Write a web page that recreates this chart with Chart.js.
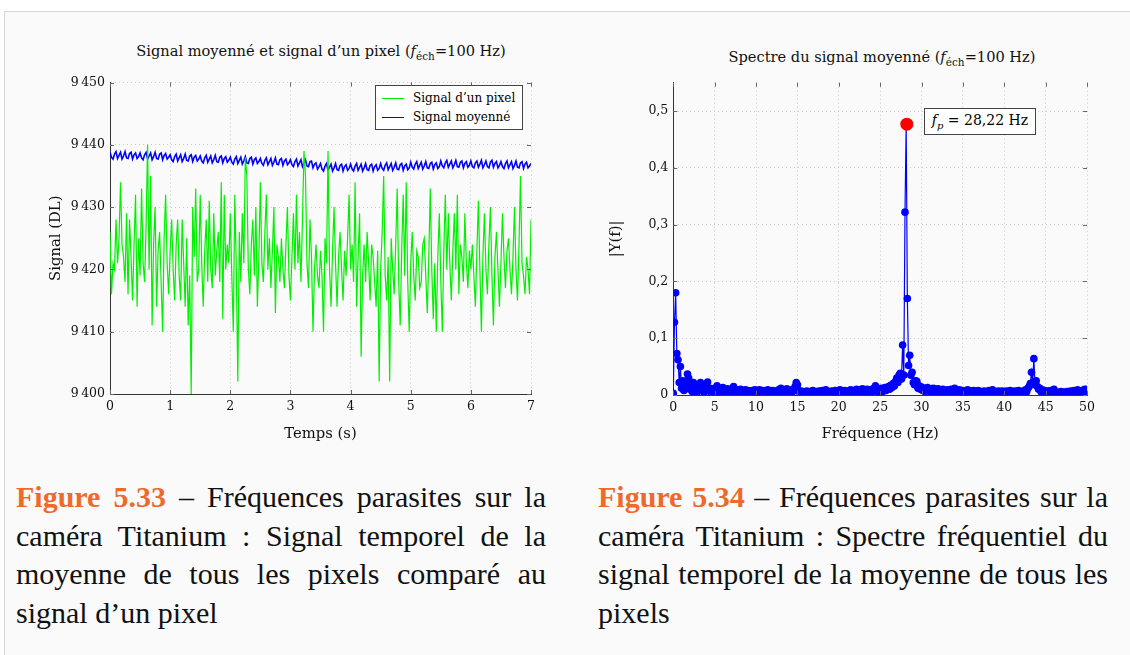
<!DOCTYPE html>
<html>
<head>
<meta charset="utf-8">
<script src="https://cdn.jsdelivr.net/npm/chart.js@4"></script>
<style>
  body { margin: 0; background: #fff; width: 1130px; height: 655px; overflow: hidden; position: relative; font-family: "DejaVu Serif", serif; }
  #frame { position: absolute; left: 4px; top: 11px; width: 1200px; height: 700px; border: 1px solid #d6d6d6; background: #fafafa; }
  canvas { position: absolute; }
  .ctitle { position: absolute; font-size: 14.6px; color: #111; white-space: nowrap; transform: translateX(-50%); }
  .ctitle sub { font-size: 10.5px; }
  #legend { position: absolute; left: 375px; top: 85px; width: 146px; height: 43px; border: 1px solid #444; background: #fff; font-size: 12px; }
  #legend div { position: absolute; left: 6px; white-space: nowrap; }
  #legend span { display: inline-block; width: 22px; height: 0; vertical-align: middle; margin-right: 9px; }
  #fpbox { position: absolute; border: 1px solid #444; background: #fff; font-size: 14px; padding: 3px 7px; white-space: nowrap; }
  .cap { position: absolute; font-family: "Liberation Serif", serif; font-size: 30px; color: #111; }
  .cap div { height: 38.5px; line-height: 38.5px; text-align: justify; text-align-last: justify; white-space: nowrap; }
  .cap div.last { text-align-last: left; }
  .cap b { color: #ee6a2c; }
</style>
</head>
<body>
<div id="frame"></div>
<div class="ctitle" style="left:321px; top:42px;">Signal moyenné et signal d’un pixel (<i>f</i><sub>éch</sub>=100 Hz)</div>
<div class="ctitle" style="left:882px; top:48px;">Spectre du signal moyenné (<i>f</i><sub>éch</sub>=100 Hz)</div>
<canvas id="timeChart" width="500" height="380" style="left:40px; top:70px;"></canvas>
<canvas id="specChart" width="500" height="380" style="left:600px; top:70px;"></canvas>
<div id="legend">
  <div style="top:5px;"><span style="border-top:1.2px solid #00f000;"></span>Signal d’un pixel</div>
  <div style="top:24px;"><span style="border-top:1.2px solid #0000ff;"></span>Signal moyenné</div>
</div>
<div id="fpbox"><i>f<sub style="font-size:10px">p</sub></i> = 28,22 Hz</div>

<div class="cap" style="left:16px; top:478px; width:530px;">
  <div><b>Figure 5.33</b> – Fréquences parasites sur la</div>
  <div>caméra Titanium : Signal temporel de la</div>
  <div>moyenne de tous les pixels comparé au</div>
  <div class="last">signal d’un pixel</div>
</div>
<div class="cap" style="left:598px; top:478px; width:510px;">
  <div><b>Figure 5.34</b> – Fréquences parasites sur la</div>
  <div>caméra Titanium : Spectre fréquentiel du</div>
  <div>signal temporel de la moyenne de tous les</div>
  <div class="last">pixels</div>
</div>

<script>
// sample spacing of the plotted series
const pixelStep = 0.025;
const meanStep = 0.025;
const freqStep = 100 / 700;

// signal of one pixel (DL), one row = 0.5 s
const pixelSignal = [
  9426, 9416, 9421, 9420, 9428, 9421, 9425, 9434, 9424, 9422, 9418, 9429, 9416, 9428, 9422, 9415, 9424, 9432, 9414, 9425,
  9419, 9433, 9421, 9418, 9427, 9440, 9420, 9435, 9411, 9424, 9430, 9414, 9423, 9426, 9418, 9410, 9425, 9432, 9421, 9416,
  9423, 9428, 9420, 9415, 9424, 9428, 9419, 9415, 9428, 9421, 9414, 9425, 9411, 9419, 9400, 9430, 9422, 9433, 9418, 9420,
  9432, 9421, 9414, 9423, 9428, 9418, 9431, 9420, 9417, 9429, 9419, 9423, 9426, 9418, 9434, 9412, 9432, 9420, 9424, 9421,
  9429, 9419, 9410, 9432, 9420, 9402, 9426, 9418, 9429, 9421, 9438, 9435, 9420, 9416, 9424, 9428, 9419, 9430, 9414, 9422,
  9434, 9421, 9418, 9426, 9432, 9420, 9425, 9417, 9423, 9430, 9413, 9424, 9422, 9418, 9425, 9420, 9417, 9424, 9430, 9419,
  9415, 9422, 9429, 9420, 9432, 9421, 9426, 9418, 9428, 9439, 9435, 9421, 9417, 9428, 9422, 9410, 9420, 9424, 9419, 9417,
  9423, 9419, 9410, 9425, 9421, 9439, 9420, 9414, 9423, 9430, 9421, 9414, 9422, 9426, 9420, 9415, 9423, 9419, 9425, 9432,
  9420, 9424, 9418, 9434, 9414, 9422, 9429, 9406, 9419, 9424, 9418, 9426, 9421, 9415, 9424, 9422, 9418, 9414, 9423, 9402,
  9420, 9426, 9435, 9419, 9415, 9422, 9402, 9425, 9420, 9416, 9424, 9433, 9418, 9411, 9423, 9432, 9419, 9434, 9418, 9410,
  9421, 9426, 9419, 9415, 9423, 9422, 9417, 9418, 9424, 9425, 9419, 9413, 9422, 9433, 9420, 9412, 9421, 9410, 9422, 9429,
  9418, 9410, 9423, 9432, 9420, 9429, 9421, 9415, 9423, 9429, 9420, 9432, 9416, 9424, 9422, 9418, 9429, 9421, 9417, 9423,
  9420, 9424, 9419, 9414, 9423, 9431, 9420, 9410, 9422, 9429, 9420, 9416, 9424, 9430, 9419, 9411, 9422, 9426, 9420, 9414,
  9421, 9429, 9422, 9417, 9423, 9425, 9420, 9416, 9422, 9430, 9420, 9415, 9424, 9435, 9421, 9419, 9416, 9422, 9420, 9416,
  9428
];

// averaged signal (DL), one row = 0.5 s
const meanSignal = [
  9438.8, 9438.0, 9437.7, 9438.5, 9438.9, 9437.8, 9438.3, 9438.8, 9437.7, 9438.2, 9438.9, 9437.9, 9437.8, 9438.6, 9438.8, 9437.7, 9438.4, 9438.7, 9437.8, 9438.1,
  9438.7, 9437.9, 9437.6, 9438.4, 9438.8, 9437.7, 9438.2, 9438.7, 9437.6, 9438.1, 9438.8, 9437.8, 9437.7, 9438.5, 9438.7, 9437.6, 9438.3, 9438.6, 9437.7, 9438.0,
  9438.4, 9437.6, 9437.3, 9438.1, 9438.5, 9437.4, 9437.9, 9438.4, 9437.3, 9437.8, 9438.5, 9437.5, 9437.4, 9438.2, 9438.4, 9437.3, 9438.0, 9438.3, 9437.4, 9437.7,
  9438.2, 9437.4, 9437.1, 9437.9, 9438.3, 9437.2, 9437.7, 9438.2, 9437.1, 9437.6, 9438.3, 9437.3, 9437.2, 9438.0, 9438.2, 9437.1, 9437.8, 9438.1, 9437.2, 9437.5,
  9438.0, 9437.2, 9436.9, 9437.7, 9438.1, 9437.0, 9437.5, 9438.0, 9436.9, 9437.4, 9438.1, 9437.1, 9437.0, 9437.8, 9438.0, 9436.9, 9437.6, 9437.9, 9437.0, 9437.3,
  9437.8, 9437.0, 9436.7, 9437.5, 9437.9, 9436.8, 9437.3, 9437.8, 9436.7, 9437.2, 9437.9, 9436.9, 9436.8, 9437.6, 9437.8, 9436.7, 9437.4, 9437.7, 9436.8, 9437.1,
  9437.6, 9436.8, 9436.5, 9437.3, 9437.7, 9436.6, 9437.1, 9437.6, 9436.5, 9437.0, 9437.6, 9436.6, 9436.5, 9437.3, 9437.4, 9436.3, 9436.9, 9437.1, 9436.1, 9436.5,
  9437.0, 9436.1, 9435.8, 9436.6, 9437.0, 9435.9, 9436.4, 9436.9, 9435.8, 9436.3, 9437.0, 9436.0, 9435.9, 9436.7, 9436.9, 9435.8, 9436.5, 9436.8, 9435.9, 9436.2,
  9436.9, 9436.1, 9435.8, 9436.6, 9437.0, 9435.9, 9436.4, 9436.9, 9435.8, 9436.3, 9437.0, 9436.0, 9435.9, 9436.7, 9436.9, 9435.8, 9436.5, 9436.8, 9435.9, 9436.2,
  9437.0, 9436.2, 9435.9, 9436.7, 9437.1, 9436.0, 9436.5, 9437.0, 9435.9, 9436.4, 9437.1, 9436.1, 9436.0, 9436.8, 9437.0, 9435.9, 9436.6, 9436.9, 9436.0, 9436.3,
  9437.2, 9436.4, 9436.1, 9436.9, 9437.3, 9436.2, 9436.7, 9437.2, 9436.1, 9436.6, 9437.3, 9436.3, 9436.2, 9437.0, 9437.2, 9436.1, 9436.8, 9437.1, 9436.2, 9436.5,
  9437.4, 9436.6, 9436.3, 9437.1, 9437.5, 9436.4, 9436.9, 9437.4, 9436.3, 9436.8, 9437.5, 9436.5, 9436.4, 9437.2, 9437.4, 9436.3, 9437.0, 9437.3, 9436.4, 9436.7,
  9437.4, 9436.5, 9436.3, 9437.1, 9437.4, 9436.4, 9436.9, 9437.5, 9436.3, 9436.8, 9437.4, 9436.5, 9436.3, 9437.2, 9437.5, 9436.4, 9437.0, 9437.3, 9436.3, 9436.7,
  9437.3, 9436.5, 9436.2, 9437.0, 9437.4, 9436.3, 9436.8, 9437.3, 9436.2, 9436.7, 9437.4, 9436.4, 9436.3, 9437.1, 9437.3, 9436.2, 9436.9, 9437.2, 9436.3, 9436.6,
  9437.0
];

// |Y(f)|, one row = 2 Hz
const spectrumAmp = [
  0.003, 0.128, 0.18, 0.073, 0.062, 0.022, 0.05, 0.012, 0.025, 0.008, 0.02, 0.012, 0.037, 0.03,
  0.01, 0.02, 0.006, 0.022, 0.01, 0.015, 0.004, 0.012, 0.018, 0.022, 0.008, 0.012, 0.005, 0.01,
  0.015, 0.023, 0.008, 0.012, 0.004, 0.01, 0.006, 0.012, 0.008, 0.016, 0.005, 0.012, 0.01, 0.004,
  0.013, 0.006, 0.009, 0.003, 0.011, 0.007, 0.005, 0.01, 0.004, 0.015, 0.008, 0.006, 0.003, 0.009,
  0.007, 0.01, 0.004, 0.006, 0.003, 0.009, 0.005, 0.008, 0.004, 0.007, 0.002, 0.008, 0.006, 0.009,
  0.005, 0.008, 0.003, 0.009, 0.006, 0.004, 0.008, 0.003, 0.007, 0.005, 0.009, 0.004, 0.006, 0.003,
  0.008, 0.005, 0.007, 0.003, 0.006, 0.009, 0.004, 0.012, 0.005, 0.003, 0.008, 0.006, 0.011, 0.004,
  0.007, 0.003, 0.009, 0.006, 0.01, 0.015, 0.022, 0.018, 0.008, 0.004, 0.007, 0.003, 0.006, 0.005,
  0.003, 0.007, 0.005, 0.002, 0.006, 0.004, 0.008, 0.003, 0.006, 0.005, 0.002, 0.007, 0.004, 0.006,
  0.008, 0.003, 0.005, 0.009, 0.004, 0.002, 0.006, 0.004, 0.007, 0.003, 0.005, 0.008, 0.004, 0.006,
  0.003, 0.009, 0.005, 0.007, 0.004, 0.008, 0.006, 0.003, 0.007, 0.005, 0.009, 0.004, 0.006, 0.008,
  0.005, 0.01, 0.004, 0.007, 0.009, 0.006, 0.011, 0.005, 0.008, 0.004, 0.01, 0.007, 0.005, 0.009,
  0.006, 0.011, 0.008, 0.016, 0.009, 0.005, 0.01, 0.007, 0.012, 0.006, 0.009, 0.013, 0.008, 0.012,
  0.015, 0.01, 0.017, 0.013, 0.02, 0.016, 0.024, 0.03, 0.022, 0.035, 0.038, 0.028, 0.088, 0.035,
  0.322, 0.477, 0.17, 0.052, 0.07, 0.035, 0.04, 0.022, 0.018, 0.025, 0.024, 0.012, 0.016, 0.01,
  0.014, 0.008, 0.012, 0.006, 0.01, 0.013, 0.007, 0.011, 0.005, 0.009, 0.012, 0.006, 0.01, 0.008,
  0.011, 0.005, 0.009, 0.007, 0.01, 0.004, 0.008, 0.006, 0.009, 0.005, 0.007, 0.01, 0.004, 0.008,
  0.012, 0.006, 0.008, 0.004, 0.009, 0.006, 0.003, 0.008, 0.005, 0.007, 0.004, 0.009, 0.005, 0.003,
  0.007, 0.004, 0.008, 0.005, 0.003, 0.006, 0.008, 0.004, 0.002, 0.006, 0.004, 0.007, 0.003, 0.005,
  0.004, 0.008, 0.003, 0.006, 0.009, 0.004, 0.002, 0.006, 0.004, 0.007, 0.003, 0.005, 0.007, 0.004,
  0.006, 0.003, 0.007, 0.004, 0.005, 0.008, 0.003, 0.006, 0.004, 0.007, 0.003, 0.005, 0.008, 0.004,
  0.006, 0.003, 0.007, 0.005, 0.009, 0.006, 0.012, 0.015, 0.02, 0.04, 0.022, 0.064, 0.018, 0.025,
  0.015, 0.01, 0.012, 0.006, 0.009, 0.005, 0.008, 0.004, 0.007, 0.003, 0.006, 0.008, 0.004, 0.005,
  0.01, 0.006, 0.003, 0.005, 0.002, 0.004, 0.006, 0.003, 0.005, 0.002, 0.004, 0.006, 0.003, 0.005,
  0.007, 0.003, 0.005, 0.008, 0.004, 0.006, 0.009, 0.004, 0.006, 0.003, 0.008, 0.005, 0.01, 0.007,
  0.01
];

const peakFreq = [28.22];
const peakAmp = [0.477];

const timeTicks = [0, 1, 2, 3, 4, 5, 6, 7];
const signalTicks = [9400, 9410, 9420, 9430, 9440, 9450];
const freqTicks = [0, 5, 10, 15, 20, 25, 30, 35, 40, 45, 50];
const ampTicks = [0, 0.1, 0.2, 0.3, 0.4, 0.5];

const FONT = { family: 'DejaVu Serif', size: 12.5 };
const TEXT = '#111';
Chart.defaults.animation = false;

// short tick marks on the inside of all four sides, like pgfplots
const innerTicks = {
  id: 'innerTicks',
  afterDraw(chart) {
    const { ctx, chartArea: a, scales: { x, y } } = chart;
    ctx.save();
    ctx.strokeStyle = '#666';
    ctx.lineWidth = 1;
    ctx.beginPath();
    x.ticks.forEach(t => {
      const px = Math.round(x.getPixelForValue(t.value)) + 0.5;
      ctx.moveTo(px, a.bottom); ctx.lineTo(px, a.bottom - 4);
      ctx.moveTo(px, a.top); ctx.lineTo(px, a.top + 4);
    });
    y.ticks.forEach(t => {
      const py = Math.round(y.getPixelForValue(t.value)) + 0.5;
      ctx.moveTo(a.left, py); ctx.lineTo(a.left + 4, py);
      ctx.moveTo(a.right, py); ctx.lineTo(a.right - 4, py);
    });
    ctx.stroke();
    ctx.restore();
  }
};

function fixedTicks(values) {
  return scale => { scale.ticks = values.map(v => ({ value: v })); };
}

function axis(min, max, values, label, fmt, size, titlePad) {
  return {
    type: 'linear', min: min, max: max,
    afterBuildTicks: fixedTicks(values),
    afterFit: s => { if (s.isHorizontal()) s.height = size; else s.width = size; },
    grid: { color: '#c9c9c9', drawTicks: false },
    border: { color: '#333', width: 1, dash: [1, 3] },
    ticks: { color: TEXT, font: FONT, padding: 5, callback: fmt },
    title: { display: true, text: label, color: TEXT, font: { family: 'DejaVu Serif', size: 14.8 }, padding: titlePad }
  };
}

const thin = '\u2009';

new Chart(document.getElementById('timeChart'), {
  type: 'line',
  data: {
    datasets: [{
      label: 'Signal d’un pixel',
      data: pixelSignal.map((v, i) => ({ x: i * pixelStep, y: v })),
      borderColor: '#00f000', borderWidth: 1.2, pointRadius: 0, tension: 0
    }, {
      label: 'Signal moyenné',
      data: meanSignal.map((v, i) => ({ x: i * meanStep, y: v })),
      borderColor: '#0000ff', borderWidth: 1.6, pointRadius: 0, tension: 0
    }]
  },
  options: {
    responsive: false,
    layout: { padding: { top: 8, right: 8, left: 0, bottom: 0 } },
    plugins: { legend: { display: false }, tooltip: { enabled: false } },
    scales: {
      x: axis(0, 7, timeTicks, 'Temps (s)', v => String(v), 56, { top: 0, bottom: 7 }),
      y: axis(9400, 9450, signalTicks, 'Signal (DL)', v => String(v).slice(0, 1) + thin + String(v).slice(1), 70, { top: 7, bottom: 0 })
    }
  },
  plugins: [innerTicks]
});

const specChart = new Chart(document.getElementById('specChart'), {
  type: 'line',
  data: {
    datasets: [{
      label: 'pic',
      data: peakFreq.map((f, i) => ({ x: f, y: peakAmp[i] })),
      showLine: false, pointRadius: 6.5, pointBackgroundColor: '#ff0000', pointBorderWidth: 0
    }, {
      label: '|Y(f)|',
      data: spectrumAmp.map((v, i) => ({ x: i * freqStep, y: v })),
      borderColor: '#0000ff', borderWidth: 1.2, tension: 0,
      pointRadius: 3.8, pointBackgroundColor: '#0000ff', pointBorderWidth: 0
    }]
  },
  options: {
    responsive: false,
    layout: { padding: { top: 12.7, right: 9.3, left: 0, bottom: 0 } },
    plugins: { legend: { display: false }, tooltip: { enabled: false } },
    scales: {
      x: axis(0, 50, freqTicks, 'Fréquence (Hz)', v => String(v), 55, { top: 0, bottom: 7 }),
      y: axis(0, 0.55, ampTicks, '|Y(f)|', v => v === 0 ? '0' : v.toFixed(1).replace('.', ','), 73.3, { top: 7, bottom: 0 })
    }
  },
  plugins: [innerTicks]
});

// place the annotation box next to the peak point
const cv = document.getElementById('specChart');
const px = specChart.scales.x.getPixelForValue(peakFreq[0]);
const py = specChart.scales.y.getPixelForValue(peakAmp[0]);
const box = document.getElementById('fpbox');
box.style.left = (cv.offsetLeft + px + 17) + 'px';
box.style.top = (cv.offsetTop + py - 16) + 'px';
</script>
</body>
</html>
